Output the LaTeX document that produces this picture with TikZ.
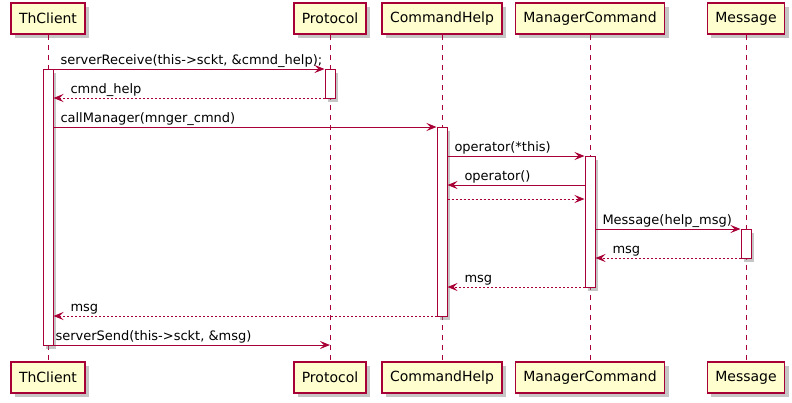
\documentclass[tikz,border=0pt]{standalone}
\usepackage{fontspec}
\setmainfont{DejaVu Sans}
\usetikzlibrary{arrows.meta,shadows}
\definecolor{umlred}{RGB}{168,0,54}
\definecolor{umlfill}{RGB}{254,254,206}

\begin{document}
\begin{tikzpicture}[x = 1pt, y = -1pt, line width = 1pt,
    part/.style = {draw = umlred, fill = umlfill, line width = 1.5pt, minimum height = 31pt, inner xsep = 8pt,
                   font = \fontsize{14}{16}\selectfont,
                   drop shadow = {shadow xshift = 4pt, shadow yshift = -4pt, fill = black!50, opacity = 0.45}},
    bar/.style = {draw = umlred, fill = white, minimum width = 10pt, inner sep = 0pt, anchor = north,
                  drop shadow = {shadow xshift = 3pt, shadow yshift = -3pt, fill = black!50, opacity = 0.45}},
    life/.style = {umlred, dash pattern = on 5pt off 5pt},
    call/.style = {umlred, -{Stealth[length = 10pt, width = 8pt, inset = 4pt]}},
    ret/.style = {call, dash pattern = on 2pt off 2pt},
    lbl/.style = {anchor = base west, inner sep = 0pt, font = \fontsize{13}{15}\selectfont}]
  \useasboundingbox (0, 0) rectangle (792, 402);
  \node [part] (thc) at (48, 18.5) {ThClient};
  \node [part] (pro) at (330, 18.5) {Protocol};
  \node [part] (cmh) at (442, 18.5) {CommandHelp};
  \node [part] (mgc) at (590, 18.5) {ManagerCommand};
  \node [part] (msg) at (746, 18.5) {Message};
  \node [part] (thcB) at (48, 377.5) {ThClient};
  \node [part] (proB) at (330, 377.5) {Protocol};
  \node [part] (cmhB) at (442, 377.5) {CommandHelp};
  \node [part] (mgcB) at (590, 377.5) {ManagerCommand};
  \node [part] (msgB) at (746, 377.5) {Message};
  \draw [life] (thc.south) -- (thcB.north);
  \draw [life] (pro.south) -- (proB.north);
  \draw [life] (cmh.south) -- (cmhB.north);
  \draw [life] (mgc.south) -- (mgcB.north);
  \draw [life] (msg.south) -- (msgB.north);
  \node [bar, minimum height = 276pt] (thcA) at (48, 69){};
  \node [bar, minimum height = 29pt] (proA) at (330, 69){};
  \node [bar, minimum height = 189pt] (cmhA) at (442, 127){};
  \node [bar, minimum height = 131pt] (mgcA) at (590, 156){};
  \node [bar, minimum height = 29pt] (msgA) at (746, 229){};
  \coordinate (m1) at (0, 69);
  \coordinate (m2) at (0, 98);
  \coordinate (m3) at (0, 127);
  \coordinate (m4) at (0, 156);
  \coordinate (m5) at (0, 185);
  \coordinate (m6) at (0, 199);
  \coordinate (m7) at (0, 229);
  \coordinate (m8) at (0, 258);
  \coordinate (m9) at (0, 287);
  \coordinate (m10) at (0, 316);
  \coordinate (m11) at (0, 345);
  \draw [call] (thcA.east |- m1) -- (proA.west |- m1);
  \draw [ret] (proA.west |- m2) -- (thcA.east |- m2);
  \draw [call] (thcA.east |- m3) -- (cmhA.west |- m3);
  \draw [call] (cmhA.east |- m4) -- (mgcA.west |- m4);
  \draw [call] (mgcA.west |- m5) -- (cmhA.east |- m5);
  \draw [ret] (cmhA.east |- m6) -- (mgcA.west |- m6);
  \draw [call] (mgcA.east |- m7) -- (msgA.west |- m7);
  \draw [ret] (msgA.west |- m8) -- (mgcA.east |- m8);
  \draw [ret] (mgcA.west |- m9) -- (cmhA.east |- m9);
  \draw [ret] (cmhA.west |- m10) -- (thcA.east |- m10);
  \draw [call] (thcA.east |- m11) -- (pro |- m11);
  \node [lbl] (t1) at (60, 64) {serverReceive(this->sckt, \&cmnd\_help);};
  \node [lbl] (t2) at (70, 93) {cmnd\_help};
  \node [lbl] (t3) at (60, 122) {callManager(mnger\_cmnd)};
  \node [lbl] (t4) at (454, 151) {operator(*this)};
  \node [lbl] (t5) at (464, 180) {operator()};
  \node [lbl] (t7) at (602, 224) {Message(help\_msg)};
  \node [lbl] (t8) at (612, 253) {msg};
  \node [lbl] (t9) at (464, 282) {msg};
  \node [lbl] (t10) at (70, 311) {msg};
  \node [lbl] (t11) at (55, 340) {serverSend(this->sckt, \&msg)};
\end{tikzpicture}
\end{document}
